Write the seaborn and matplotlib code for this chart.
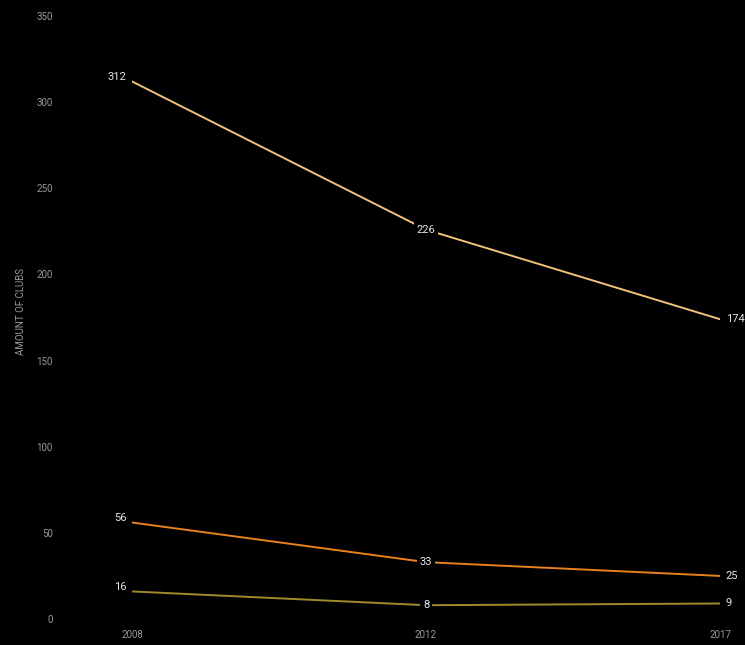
import numpy as np
import pandas as pd
import matplotlib
matplotlib.use("Agg")
import matplotlib.pyplot as plt
import seaborn as sns

years = ["2008", "2012", "2017"]
top_clubs = [312, 226, 174]
mid_clubs = [56, 33, 25]
low_clubs = [16, 8, 9]
series_names = ["top", "mid", "low"]
series_colors = ["#f0c27a", "#e8821e", "#a08a2c"]
y_ticks = [0, 50, 100, 150, 200, 250, 300, 350]

sns.set_theme(style="dark")
plt.rcParams['font.family'] = ['Roboto', 'DejaVu Sans']

df = pd.DataFrame({
    "year": years * 3,
    "clubs": top_clubs + mid_clubs + low_clubs,
    "series": np.repeat(series_names, len(years)),
})
df["xpos"] = df.groupby("series").cumcount()

fig = plt.figure(figsize=(7.45, 6.45), dpi=100, facecolor="black")
ax = fig.add_axes([132 / 745, 26 / 645, (720 - 132) / 745, (619 - 16) / 645])
ax.set_facecolor("black")

sns.lineplot(data=df, x="xpos", y="clubs", hue="series", palette=series_colors,
             hue_order=series_names, linewidth=1.4, legend=False, ax=ax)

ax.set_xlim(0, 2)
ax.set_ylim(0, 350)
ax.set_xticks(range(len(years)))
ax.set_xticklabels(years)
ax.set_yticks(y_ticks)
for s in ax.spines.values():
    s.set_visible(False)
ax.grid(False)
ax.tick_params(axis="y", length=0, pad=57, labelsize=7, labelcolor="#9a9a9a")
ax.tick_params(axis="x", length=0, pad=8, labelsize=7, labelcolor="#9a9a9a")
ax.set_xlabel("")
ax.set_ylabel("AMOUNT OF CLUBS", color="#9a9a9a", fontsize=7)
ax.yaxis.set_label_coords(-106 / 588, 0.51)

# value labels, boxed in black so the line breaks around them
box = dict(boxstyle="square,pad=0.25", facecolor="black", edgecolor="none")
aligns = [("right", -4), ("center", 0), ("left", 4)]
for vals in [top_clubs, mid_clubs, low_clubs]:
    for i, v in enumerate(vals):
        ha, dx = aligns[i]
        ax.annotate(str(v), (i, v), xytext=(dx, 3 if i == 0 else 0), textcoords="offset points",
                    ha=ha, va="center", color="#e6e6e6", fontsize=8, bbox=box,
                    annotation_clip=False, clip_on=False)

fig.savefig("out.png", dpi=100, facecolor="black")
